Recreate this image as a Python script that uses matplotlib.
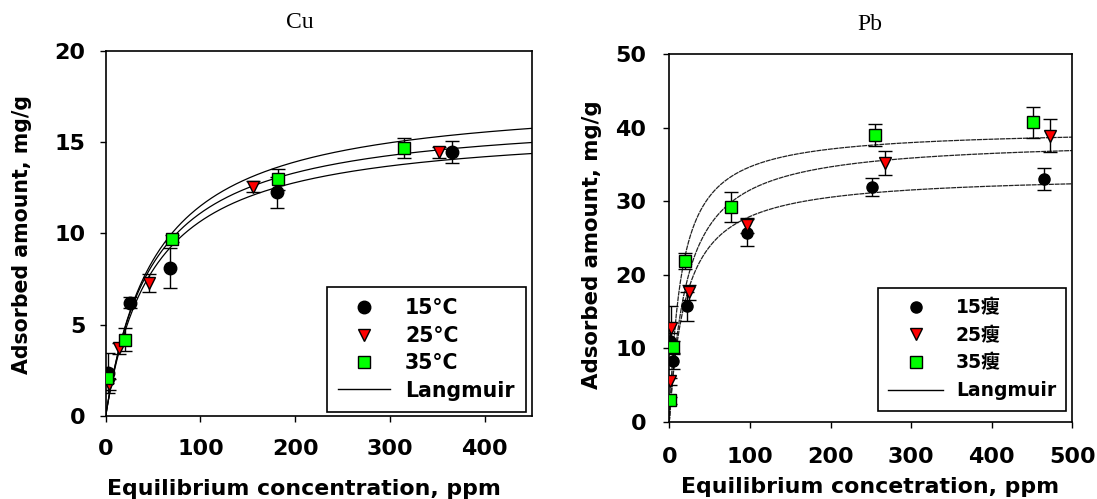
import matplotlib
matplotlib.use("Agg")
import matplotlib.pyplot as plt
import numpy as np
from matplotlib.lines import Line2D

W, H = 1097, 499
plt.rcParams['font.family'] = ['DejaVu Sans', 'Noto Sans CJK SC']

# ---------------- Cu isotherm data ----------------
cu_x_15 = [2, 26, 68, 181, 366]
cu_y_15 = [2.35, 6.2, 8.1, 12.25, 14.45]
cu_e_15 = [1.1, 0.3, 1.1, 0.85, 0.58]

cu_x_25 = [3, 14, 46, 155, 352]
cu_y_25 = [1.75, 3.72, 7.3, 12.55, 14.45]
cu_e_25 = [0.3, 0.3, 0.5, 0.3, 0.3]

cu_x_35 = [1.5, 20, 70, 182, 315]
cu_y_35 = [2.1, 4.18, 9.7, 12.95, 14.65]
cu_e_35 = [0.3, 0.64, 0.2, 0.6, 0.55]

# Langmuir parameters (qm, K) for 15, 25, 35 degC
cu_qm = [15.96, 16.63, 17.61]
cu_K = [0.0201, 0.0201, 0.01882]

# ---------------- Pb isotherm data ----------------
pb_x_15 = [1, 5, 22, 96, 252, 465]
pb_y_15 = [11.0, 8.2, 15.7, 25.7, 31.9, 33.0]
pb_e_15 = [1.0, 1.0, 2.0, 1.8, 1.2, 1.5]

pb_x_25 = [1, 2, 24, 97, 268, 472]
pb_y_25 = [5.5, 12.8, 17.6, 26.7, 35.2, 38.9]
pb_e_25 = [0.5, 3.0, 1.0, 1.0, 1.6, 2.2]

pb_x_35 = [1, 4, 20, 76, 255, 451]
pb_y_35 = [2.9, 10.2, 21.8, 29.2, 39.0, 40.7]
pb_e_35 = [0.5, 0.8, 1.1, 2.1, 1.5, 2.1]

pb_qm = [33.69, 38.51, 39.86]
pb_K = [0.0482, 0.04495, 0.0665]

cu_labels = ['15°C', '25°C', '35°C', 'Langmuir']
pb_labels = ['15瘦', '25瘦', '35瘦', 'Langmuir']

cu_xticks = [0, 100, 200, 300, 400]
cu_yticks = [0, 5, 10, 15, 20]
pb_xticks = [0, 100, 200, 300, 400, 500]
pb_yticks = [0, 10, 20, 30, 40, 50]


def fx(px):
    return px / W


def fy(py):
    return 1 - py / H


def langmuir(c, qm, k):
    return qm * k * c / (1 + k * c)


fig = plt.figure(figsize=(W / 100, H / 100), dpi=100)
fig.patch.set_facecolor('white')

axL = fig.add_axes([fx(105.7), fy(416), (532 - 105.7) / W, (416 - 50.7) / H])
axR = fig.add_axes([fx(669.3), fy(421.7), (1072.3 - 669.3) / W, (421.7 - 54) / H])

styles = [
    dict(marker='o', mfc='black', mec='black'),
    dict(marker='v', mfc='#ff0000', mec='black'),
    dict(marker='s', mfc='#00ff00', mec='black'),
]


def draw_panel(ax, xs, ys, es, qms, ks, xmax, ms, line_kw):
    cgrid = np.linspace(0, xmax, 400)
    for qm, k in zip(qms, ks):
        ax.plot(cgrid, langmuir(cgrid, qm, k), zorder=2, **line_kw)
    for x, y, e, st in zip(xs, ys, es, styles):
        ax.errorbar(x, y, yerr=e, fmt='none', ecolor='black', elinewidth=1,
                    capsize=5, capthick=1, zorder=3)
        ax.plot(x, y, ls='none', ms=ms, mew=1, zorder=4, **st)


draw_panel(axL, [cu_x_15, cu_x_25, cu_x_35], [cu_y_15, cu_y_25, cu_y_35],
           [cu_e_15, cu_e_25, cu_e_35], cu_qm, cu_K, 450, 9,
           dict(color='black', lw=0.9))
draw_panel(axR, [pb_x_15, pb_x_25, pb_x_35], [pb_y_15, pb_y_25, pb_y_35],
           [pb_e_15, pb_e_25, pb_e_35], pb_qm, pb_K, 500, 8,
           dict(color='#222222', lw=0.9, ls=(0, (4, 0.6))))

for ax, xl, yl, xt, yt, xpad, ypad in [
        (axL, (0, 450), (0, 20), cu_xticks, cu_yticks, 12.5, 10.5),
        (axR, (0, 500), (0, 50), pb_xticks, pb_yticks, 14, 12.5)]:
    ax.set_xlim(*xl)
    ax.set_ylim(*yl)
    ax.set_xticks(xt)
    ax.set_yticks(yt)
    for sp in ax.spines.values():
        sp.set_linewidth(1.2)
        sp.set_color('black')
    ax.tick_params(axis='both', direction='out', length=4, width=1,
                   labelsize=16, top=False, right=False)
    ax.tick_params(axis='x', pad=xpad)
    ax.tick_params(axis='y', pad=ypad)
    for lab in ax.get_xticklabels() + ax.get_yticklabels():
        lab.set_fontweight('bold')

# Titles and axis labels
fig.text(fx(300), fy(22), 'Cu', family='Liberation Serif', fontsize=17,
         ha='center', va='center')
fig.text(fx(870), fy(25), 'Pb', family='Liberation Serif', fontsize=17,
         ha='center', va='center')

fig.text(fx(304), fy(489), 'Equilibrium concentration, ppm', fontsize=15.8,
         fontweight='bold', ha='center', va='center')
fig.text(fx(870), fy(487), 'Equilibrium concetration, ppm', fontsize=15.8,
         fontweight='bold', ha='center', va='center')
fig.text(fx(22), fy(235), 'Adsorbed amount, mg/g', fontsize=14.8,
         fontweight='bold', rotation=90, ha='center', va='center')
fig.text(fx(592), fy(245), 'Adsorbed amount, mg/g', fontsize=15.3,
         fontweight='bold', rotation=90, ha='center', va='center')


def make_handles(ms):
    hs = [Line2D([], [], ls='none', ms=ms, mew=1, **st) for st in styles]
    hs.append(Line2D([], [], color='black', lw=1))
    return hs


legL = axL.legend(make_handles(9), cu_labels, loc='upper left',
                  bbox_to_anchor=(fx(327), fy(287)), bbox_transform=fig.transFigure,
                  borderaxespad=0, fancybox=False, edgecolor='black', framealpha=1,
                  handlelength=2.5, handletextpad=0.75, labelspacing=0.36,
                  borderpad=0.55, prop=dict(weight='bold', size=14.8))
legL.get_frame().set_linewidth(1.2)

legR = axR.legend(make_handles(8), pb_labels, loc='upper left',
                  bbox_to_anchor=(fx(878), fy(288)), bbox_transform=fig.transFigure,
                  borderaxespad=0, fancybox=False, edgecolor='black', framealpha=1,
                  handlelength=2.9, handletextpad=0.7, labelspacing=0.46,
                  borderpad=0.55,
                  prop=dict(family=['DejaVu Sans', 'Noto Sans CJK SC'],
                            weight='bold', size=13.5))
legR.get_frame().set_linewidth(1.2)

fig.savefig('out.png', dpi=100, facecolor='white')
